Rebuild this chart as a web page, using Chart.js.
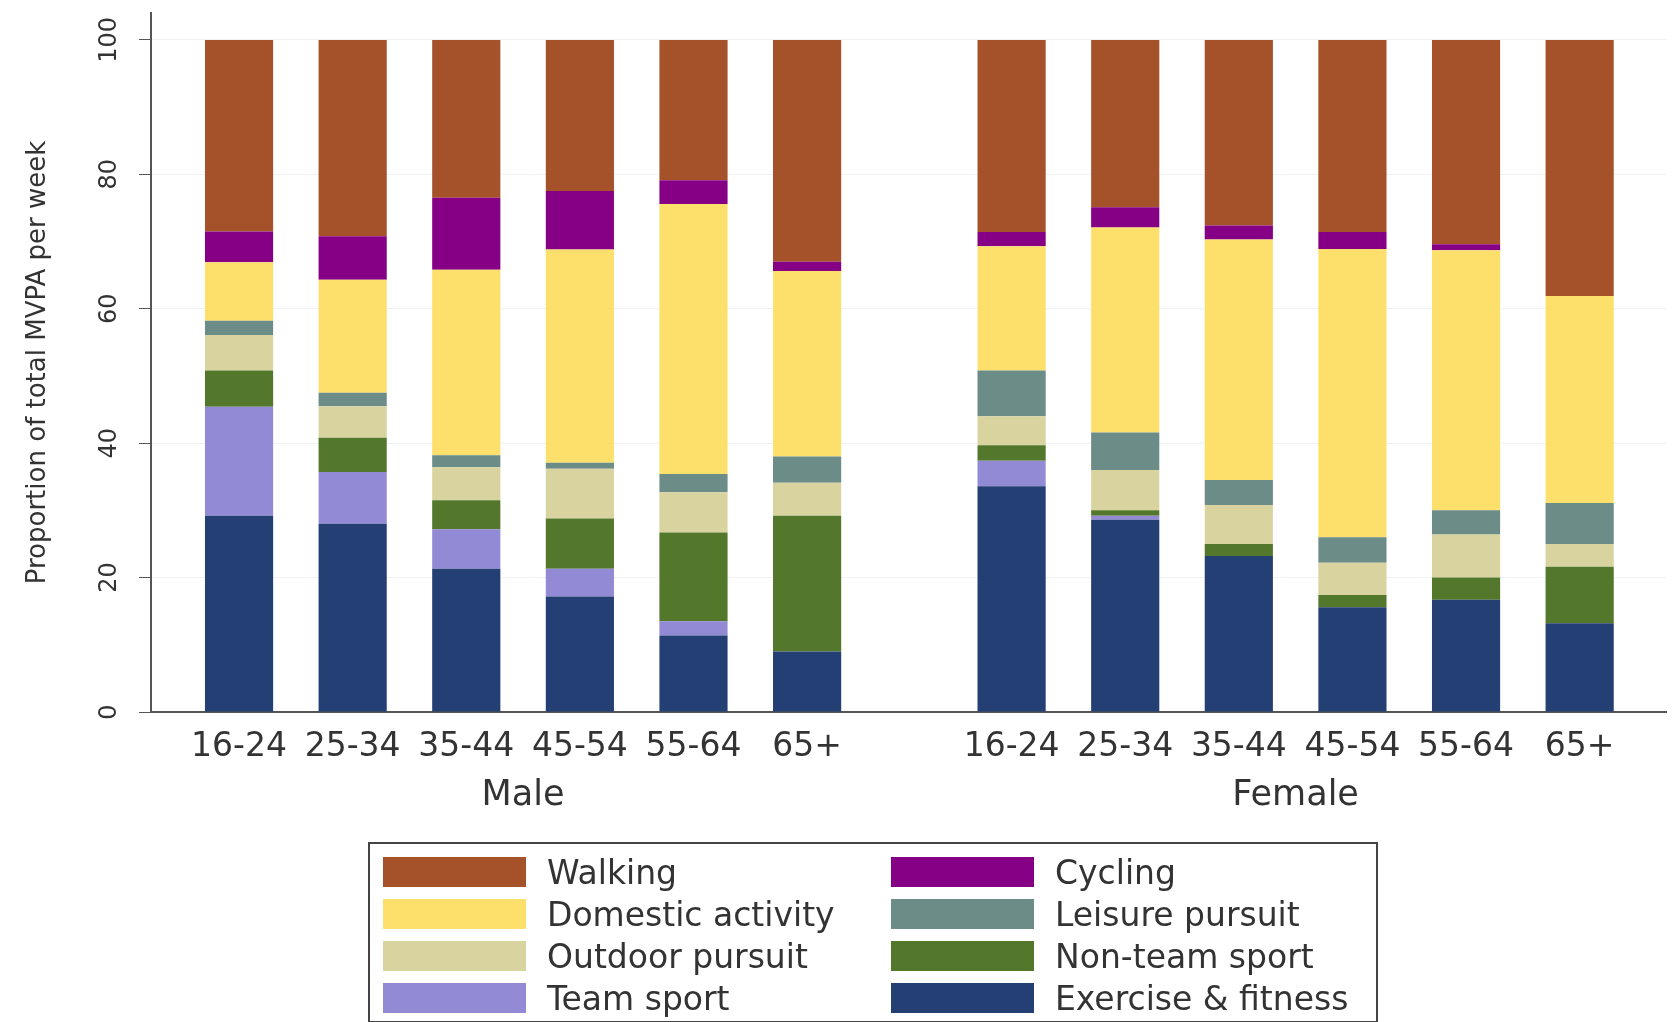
<!DOCTYPE html>
<html lang="en">
<head>
    <meta charset="UTF-8">
    <title>Proportion of total MVPA per week by activity type</title>
    <script src="https://cdn.jsdelivr.net/npm/chart.js"></script>
    <style>
        body { margin: 0; background: #fff; overflow: hidden; }
        #wrap { position: relative; width: 1673px; height: 1022px; }
        #legend {
            position: absolute; left: 368px; top: 842px; width: 1010px; height: 181px;
            border: 2px solid #444; box-sizing: border-box;
            display: grid; grid-template-columns: 508px 480px; grid-auto-rows: 42px;
            padding: 7px 0 0 13px;
            font-family: "DejaVu Sans", sans-serif; font-size: 33px; color: #333;
        }
        .item { display: flex; align-items: center; white-space: nowrap; }
        .swatch { width: 143px; height: 30px; margin-right: 21px; flex: none; }
    </style>
</head>
<body>
<div id="wrap">
    <canvas id="mvpaChart"></canvas>
    <div id="legend"></div>
</div>
<script>
    // age bands, repeated for each sex
    const ageGroups = ['16-24', '25-34', '35-44', '45-54', '55-64', '65+'];
    const sexes = ['Male', 'Female'];
    const yTicks = [0, 20, 40, 60, 80, 100];

    // % of total MVPA per week, male 16-24 .. 65+, then female 16-24 .. 65+
    const exerciseFitness = [29.2, 28.0, 21.3, 17.2, 11.4, 9.0, 33.6, 28.6, 23.2, 15.6, 16.7, 13.2];
    const teamSport       = [16.2, 7.7, 5.9, 4.1, 2.1, 0, 3.8, 0.6, 0, 0, 0, 0];
    const nonTeamSport    = [5.4, 5.1, 4.3, 7.5, 13.2, 20.2, 2.3, 0.8, 1.8, 1.8, 3.3, 8.4];
    const outdoorPursuit  = [5.3, 4.7, 4.9, 7.4, 6.0, 4.9, 4.3, 6.0, 5.8, 4.8, 6.4, 3.4];
    const leisurePursuit  = [2.1, 2.0, 1.8, 0.9, 2.7, 3.9, 6.8, 5.6, 3.7, 3.8, 3.6, 6.1];
    const domesticActivity = [8.7, 16.8, 27.6, 31.7, 40.2, 27.6, 18.5, 30.5, 35.8, 42.9, 38.7, 30.8];
    const cycling         = [4.6, 6.5, 10.7, 8.7, 3.5, 1.4, 2.1, 3.0, 2.1, 2.5, 0.9, 0];
    const walking         = [28.5, 29.2, 23.5, 22.5, 20.9, 33.0, 28.6, 24.9, 27.6, 28.6, 30.4, 38.1];

    const tickLabels = sexes.flatMap(() => ageGroups);
    const n = ageGroups.length;
    const groupGap = 0.8; // extra space between the male and female blocks
    const xPos = tickLabels.map((_, i) => i < n ? i : i + groupGap);
    const groupCentres = [(n - 1) / 2, (n - 1) / 2 + n + groupGap];

    // stacked bottom to top
    const series = [
        { label: 'Exercise & fitness', data: exerciseFitness, color: '#243f73' },
        { label: 'Team sport', data: teamSport, color: '#928ad4' },
        { label: 'Non-team sport', data: nonTeamSport, color: '#53782b' },
        { label: 'Outdoor pursuit', data: outdoorPursuit, color: '#d9d39f' },
        { label: 'Leisure pursuit', data: leisurePursuit, color: '#6c8c87' },
        { label: 'Domestic activity', data: domesticActivity, color: '#fde06c' },
        { label: 'Cycling', data: cycling, color: '#860085' },
        { label: 'Walking', data: walking, color: '#a5522a' }
    ];
    const legendOrder = ['Walking', 'Cycling', 'Domestic activity', 'Leisure pursuit',
        'Outdoor pursuit', 'Non-team sport', 'Team sport', 'Exercise & fitness'];

    const textColor = '#333';
    const font = 'DejaVu Sans';
    const xMin = -0.775, xMax = xPos[xPos.length - 1] + 0.76;

    const chart = new Chart(document.getElementById('mvpaChart'), {
        type: 'bar',
        data: {
            datasets: series.map(s => ({
                label: s.label,
                data: s.data.map((v, i) => ({ x: xPos[i], y: v })),
                backgroundColor: s.color,
                borderWidth: 0,
                barPercentage: 0.6,
                categoryPercentage: 1
            }))
        },
        options: {
            animation: false,
            responsive: true,
            maintainAspectRatio: false,
            layout: { padding: { top: 13, right: 7, bottom: 193, left: 0 } },
            plugins: { legend: { display: false }, tooltip: { enabled: false } },
            scales: {
                x: {
                    type: 'linear',
                    stacked: true,
                    offset: false,
                    min: xMin,
                    max: xMax,
                    grid: { display: false, offset: false },
                    border: { display: true, color: '#555', width: 2 },
                    afterBuildTicks: scale => { scale.ticks = xPos.map(v => ({ value: v })); },
                    afterFit: scale => { scale.height = 55; },
                    ticks: {
                        autoSkip: false, maxRotation: 0, padding: 8,
                        color: textColor, font: { family: font, size: 33 },
                        callback: (value, index) => tickLabels[index]
                    }
                },
                xg: {
                    type: 'linear',
                    position: 'bottom',
                    weight: 1,
                    offset: false,
                    min: xMin,
                    max: xMax,
                    grid: { display: false },
                    border: { display: false },
                    afterBuildTicks: scale => { scale.ticks = groupCentres.map(v => ({ value: v })); },
                    afterFit: scale => { scale.height = 62; },
                    ticks: {
                        autoSkip: false, maxRotation: 0, padding: 0,
                        color: textColor, font: { family: font, size: 35 },
                        callback: (value, index) => sexes[index]
                    }
                },
                y: {
                    stacked: true,
                    min: 0,
                    max: 104,
                    afterBuildTicks: scale => { scale.ticks = yTicks.map(v => ({ value: v })); },
                    afterFit: scale => {
                        scale.width = 151;
                        scale.paddingTop = 0;
                        scale.paddingBottom = 0;
                    },
                    grid: { color: '#eef2f5', tickColor: '#555', tickLength: 12, lineWidth: 1 },
                    border: { display: true, color: '#555', width: 2 },
                    ticks: {
                        minRotation: 90, maxRotation: 90, crossAlign: 'center', padding: 6,
                        color: textColor, font: { family: font, size: 24 }
                    },
                    title: {
                        display: true,
                        text: 'Proportion of total MVPA per week',
                        color: textColor,
                        font: { family: font, size: 26 },
                        padding: { top: 23, bottom: 0 }
                    }
                }
            }
        }
    });

    // two-column legend in the same row order as the original
    const legendDiv = document.getElementById('legend');
    legendOrder.forEach(name => {
        const ds = chart.data.datasets.find(d => d.label === name);
        const item = document.createElement('div');
        item.className = 'item';
        item.innerHTML = `<span class="swatch" style="background:${ds.backgroundColor}"></span><span>${ds.label}</span>`;
        legendDiv.appendChild(item);
    });
</script>
</body>
</html>
